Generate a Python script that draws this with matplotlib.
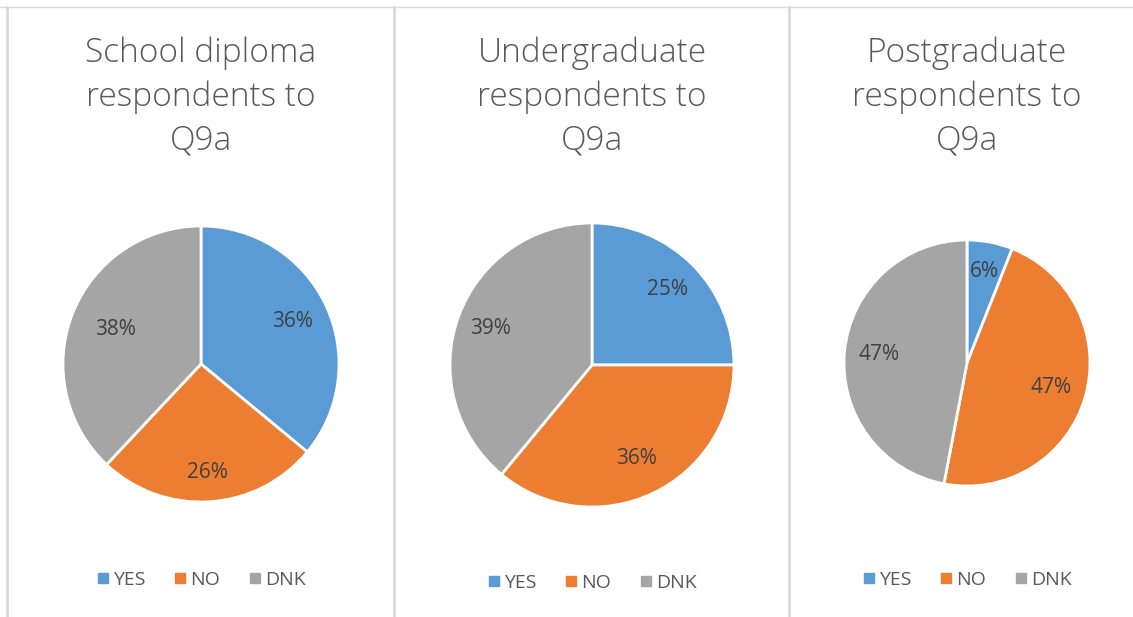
import matplotlib.pyplot as plt
import numpy as np
from matplotlib.lines import Line2D

# data
titles = ["School diploma\nrespondents to\nQ9a",
          "Undergraduate\nrespondents to\nQ9a",
          "Postgraduate\nrespondents to\nQ9a"]
labels = ["YES", "NO", "DNK"]
school = [36, 26, 38]
undergrad = [25, 36, 39]
postgrad = [6, 47, 47]
colors = ["#5B9BD5", "#ED7D31", "#A5A5A5"]

W, H = 1133, 617
fig = plt.figure(figsize=(W / 100, H / 100), dpi=100)
plt.rcParams['font.family'] = ['Open Sans', 'DejaVu Sans']

# pie centres / radii / legend y in pixels (layout only)
panels = [
    (school, 201, 364, 138, 580, [0.73, 0.79, 0.67]),
    (undergrad, 592, 365, 142, 583, [0.75, 0.73, 0.76]),
    (postgrad, 967, 363, 123, 580, [0.76, 0.71, 0.72]),
]

for i, (vals, cx, cy, r, ly, dists) in enumerate(panels):
    ax = fig.add_axes([(cx - r) / W, 1 - (cy + r) / H, 2 * r / W, 2 * r / H])
    wedges, _, autotexts = ax.pie(
        vals, colors=colors, startangle=90, counterclock=False,
        autopct=lambda p: f"{p:.0f}%", pctdistance=0.73,
        wedgeprops=dict(edgecolor="white", linewidth=2),
        textprops=dict(color="#404040", fontsize=15))
    # Excel "best fit" label placement varies per slice
    for w, t, d in zip(wedges, autotexts, dists):
        ang = np.deg2rad((w.theta1 + w.theta2) / 2)
        t.set_position((d * np.cos(ang), d * np.sin(ang)))
    ax.set_xlim(-1, 1)
    ax.set_ylim(-1, 1)
    ax.set_aspect("equal")
    ax.axis("off")

    fig.text(cx / W, 1 - 97 / H, titles[i], ha="center", va="center",
             fontsize=24, color="#595959", linespacing=1.42, fontweight="light")

    handles = [Line2D([], [], marker="s", color=c, linestyle="", markersize=6.5)
               for c in colors]
    fig.legend(handles, labels, loc="center", bbox_to_anchor=(cx / W, 1 - ly / H),
               ncol=3, frameon=False, fontsize=14, labelcolor="#595959",
               handletextpad=0.15, columnspacing=1.45, handlelength=0.7)

# panel borders
grid_c = "#D9D9D9"
fig.add_artist(Line2D([0, 1], [1 - 7 / H, 1 - 7 / H], color=grid_c, linewidth=1,
                      transform=fig.transFigure))
for x in [7, 394, 789]:
    fig.add_artist(Line2D([x / W, x / W], [0, 1 - 7 / H], color=grid_c, linewidth=2,
                          transform=fig.transFigure))

fig.savefig("out.png", dpi=100, facecolor="white")
